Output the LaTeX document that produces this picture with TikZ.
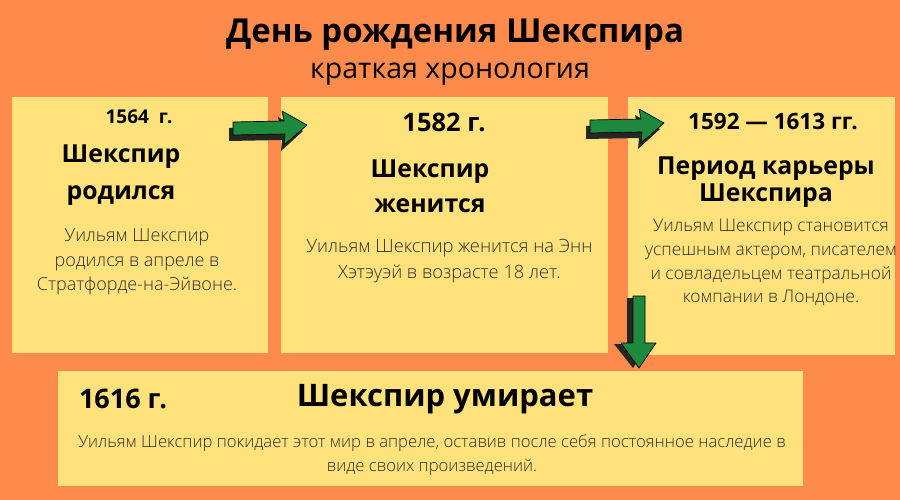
\documentclass[tikz,border=0pt]{standalone}
\usepackage{fontspec}
\setmainfont{Open Sans}
\newfontfamily\lightfont{Open Sans Light}
\definecolor{bg}{HTML}{FD8B4B}
\definecolor{boxc}{HTML}{FFE27B}
\definecolor{bodytxt}{HTML}{2E2E2E}
\definecolor{arrg}{HTML}{1E8A3D}
\tikzset{
  card/.style={fill=boxc, draw=none, inner sep=0pt},
  yearlbl/.style={font=\bfseries\fontsize{#1}{#1}\selectfont, text=black, inner sep=0pt},
  headlbl/.style={font=\bfseries\fontsize{24.8}{37}\selectfont, text=black, align=center, inner sep=0pt},
  bodylbl/.style={font=\lightfont\fontsize{18}{24.5}\selectfont, text=bodytxt, align=center, inner sep=0pt},
  arrowshadow/.style={fill=black!85},
  arrowbody/.style={fill=arrg, draw=black, line width=0.7pt, line join=round}
}
\begin{document}
\begin{tikzpicture}[x=1pt,y=-1pt]
\fill[bg] (0,0) rectangle (900,500);
\useasboundingbox (0,0) rectangle (900,500);

% title
\node[font=\bfseries\fontsize{33}{33}\selectfont, inner sep=0pt] (title) at (455,35) {День рождения Шекспира};
\node[font=\fontsize{28.5}{28.5}\selectfont, inner sep=0pt] (subtitle) at (450,74) {краткая хронология};

% cards
\node[card, minimum width=256pt, minimum height=256pt] (c1) at (140,225) {};
\node[card, minimum width=327pt, minimum height=256pt] (c2) at (444.5,225) {};
\node[card, minimum width=267pt, minimum height=258pt] (c3) at (761.5,226) {};
\node[card, minimum width=745pt, minimum height=115pt] (c4) at (430.5,428.5) {};

% card 1
\node[yearlbl=19] (y1) at (139,117) {1564\ \ г.};
\node[headlbl] (h1) at (121,175) {Шекспир\\родился};
\node[bodylbl] (t1) at (137,262) {Уильям Шекспир\\родился в апреле в\\Стратфорде-на-Эйвоне.};

% card 2
\node[yearlbl=25.5] (y2) at (444,122) {1582 г.};
\node[headlbl, font=\bfseries\fontsize{24.8}{35}\selectfont] (h2) at (430,186) {Шекспир\\женится};
\node[bodylbl, font=\lightfont\fontsize{18.3}{26}\selectfont] (t2) at (449.5,261) {Уильям Шекспир женится на Энн\\Хэтэуэй в возрасте 18 лет.};

% card 3
\node[yearlbl=22.5] (y3) at (773,122) {1592 — 1613 гг.};
\node[headlbl, font=\bfseries\fontsize{24.8}{27.5}\selectfont] (h3) at (766,182) {Период карьеры\\Шекспира};
\node[bodylbl, font=\lightfont\fontsize{17.4}{23.8}\selectfont] (t3) at (771,262.5) {Уильям Шекспир становится\\успешным актером, писателем\\и совладельцем театральной\\компании в Лондоне.};

% card 4
\node[yearlbl=27] (y4) at (123,399) {1616 г.};
\node[font=\bfseries\fontsize{31}{31}\selectfont, inner sep=0pt] (h4) at (445,399) {Шекспир умирает};
\node[bodylbl, font=\lightfont\fontsize{16.7}{24}\selectfont] (t4) at (432,455) {Уильям Шекспир покидает этот мир в апреле, оставив после себя постоянное наследие в\\виде своих произведений.};

% right arrows
\foreach \dx/\dy [count=\i] in {0/0, 357/-2}{
  \begin{scope}[shift={(\dx,\dy)}]
    \fill[arrowshadow] (229,128) -- (280,127) -- (278,117) -- (303,131) -- (281,151) -- (282,140) -- (229,141) -- cycle;
    \path[arrowbody] (233,122) -- (284,121) -- (282,111) -- (307,125) -- (284,145) -- (285,134) -- (233,135) -- cycle;
  \end{scope}
}
% down arrow
\fill[arrowshadow] (627,298) -- (639,298) -- (639,344) -- (649,344) -- (633,368) -- (614,344) -- (627,344) -- cycle;
\path[arrowbody] (633,296) -- (645,296) -- (645,343) -- (656,343) -- (639,368) -- (621,343) -- (633,343) -- cycle;
\end{tikzpicture}
\end{document}
